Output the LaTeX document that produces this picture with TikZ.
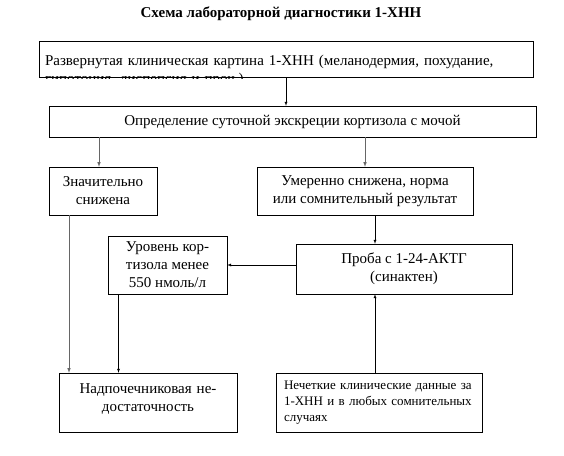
\documentclass[tikz,border=0pt]{standalone}
\usepackage{fontspec}
\setmainfont{Liberation Serif}
\usepackage{trimclip}
\usetikzlibrary{arrows}

\begin{document}
\begin{tikzpicture}[x=1pt,y=-1pt,>=latex,
  box/.style={draw,rectangle,inner sep=0pt,align=center,font=\fontsize{15}{18}\selectfont},
  link/.style={->,black},
  glink/.style={->,black!60,line width=0.6pt}]
\useasboundingbox (0,0) rectangle (564,455);
\node[font=\bfseries\fontsize{15}{17}\selectfont] (title) at (281,14) {Схема лабораторной диагностики 1-ХНН};
% boxes
\node[box,align=left,text width=482pt,inner xsep=6pt,text height=24pt,text depth=12pt] (clin) at (286,59) {Развернутая клиническая картина 1-ХНН (меланодермия, похудание,\\\raisebox{5pt}{\clipbox{0pt {\dimexpr\depth+5pt\relax} 0pt 0pt}{гипотония, диспепсия и проч.)}}};
\node[box,minimum width=487pt,minimum height=31pt] (urine) at (292.5,121.5) {Определение суточной экскреции кортизола с мочой};
\node[box,minimum width=108pt,minimum height=48pt] (strong) at (103,191) {Значительно\\снижена};
\node[box,minimum width=216pt,minimum height=48pt] (moder) at (365,191) {Умеренно снижена, норма\\или сомнительный результат};
\node[box,minimum width=216pt,minimum height=50pt] (acth) at (404,269) {Проба с 1-24-АКТГ\\(синактен)};
\node[box,minimum width=119pt,minimum height=58pt] (level) at (167.5,265) {Уровень кор-\\тизола менее\\550 нмоль/л};
\node[box,text width=178pt,text height=20pt,text depth=39pt] (adr) at (148,402.5) {Надпочечниковая не-\\достаточность};
\node[box,align=left,text width=190pt,inner xsep=8pt,minimum height=59pt,font=\fontsize{13}{16}\selectfont] (unclear) at (379,402.5) {Нечеткие клинические данные за\\1-ХНН и в любых сомнительных\\случаях};
% arrows
\draw[link] (clin.south) -- (clin.south |- urine.north);
\draw[glink] ([xshift=-4pt]strong.north |- urine.south) -- ([xshift=-4pt]strong.north);
\draw[glink] (moder.north |- urine.south) -- (moder.north);
\draw[link] ([xshift=10pt]moder.south) -- ([xshift=10pt]moder.south |- acth.north);
\draw[link] (level.east -| acth.west) -- (level.east);
\draw[glink] ([xshift=-34pt]strong.south) -- ([xshift=-34pt]strong.south |- adr.north);
\draw[link] ([xshift=-49pt]level.south) -- ([xshift=-49pt]level.south |- adr.north);
\draw[link] ([xshift=-4pt]unclear.north) -- ([xshift=-4pt]unclear.north |- acth.south);
\end{tikzpicture}
\end{document}
